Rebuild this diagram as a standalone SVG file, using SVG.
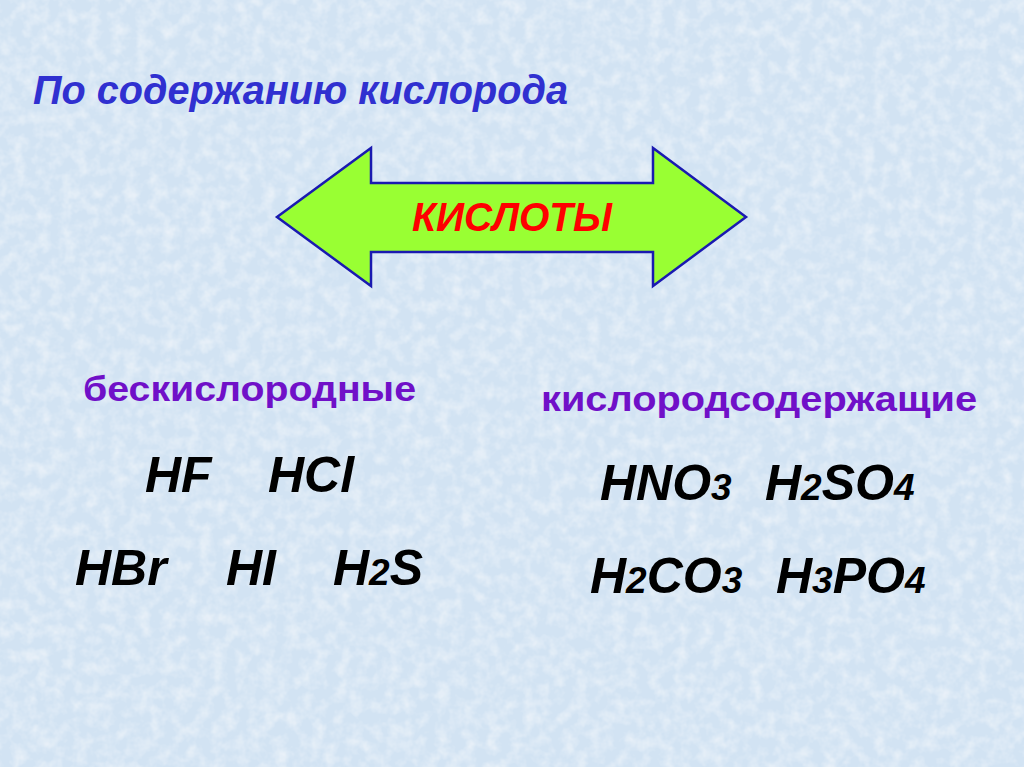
<svg xmlns="http://www.w3.org/2000/svg" width="1024" height="767" viewBox="0 0 1024 767">
<defs>
<filter id="tex" x="0" y="0" width="100%" height="100%">
<feTurbulence type="fractalNoise" baseFrequency="0.08" numOctaves="3" seed="4" result="n"/>
<feColorMatrix in="n" type="matrix" values="0 0 0 0 1  0 0 0 0 1  0 0 0 0 1  0 0 0 0.9 -0.35" result="w"/>
<feComposite in="w" in2="SourceGraphic" operator="over"/>
</filter>
<style>
.t{font-family:"Liberation Sans",Arial,sans-serif;font-weight:bold}
.i{font-style:italic}
.f{font-size:50px;fill:#000}
.s{font-size:37px}
.h{font-size:35px;fill:#7010c8}
</style>
</defs>
<rect width="1024" height="767" fill="#d2e3f3" filter="url(#tex)"/>
<g id="title"><text class="t i" x="33" y="104" font-size="40" fill="#3030d0" textLength="535" lengthAdjust="spacingAndGlyphs">По содержанию кислорода</text></g>
<g id="arrow">
<polygon points="277,217 371,148 371,183 653,183 653,148 746,217 653,286 653,252 371,252 371,286" fill="#99ff33" stroke="#1a1ab0" stroke-width="2.5" stroke-linejoin="miter"/>
<text class="t i" x="512" y="231" font-size="40" fill="#ff0000" text-anchor="middle" textLength="200" lengthAdjust="spacingAndGlyphs">КИСЛОТЫ</text>
</g>
<g id="oxygen-free">
<text class="t h" x="83" y="401" textLength="333" lengthAdjust="spacingAndGlyphs">бескислородные</text>
<text class="t i f" x="145" y="492">HF</text>
<text class="t i f" x="268" y="492">HCl</text>
<text class="t i f" x="75" y="585">HBr</text>
<text class="t i f" x="226" y="585">HI</text>
<text class="t i f" x="333" y="585">H<tspan class="s">2</tspan>S</text>
</g>
<g id="oxygen-containing">
<text class="t h" x="541" y="411" textLength="436" lengthAdjust="spacingAndGlyphs">кислородсодержащие</text>
<text class="t i f" x="600" y="500">HNO<tspan class="s">3</tspan></text>
<text class="t i f" x="765" y="500">H<tspan class="s">2</tspan>SO<tspan class="s">4</tspan></text>
<text class="t i f" x="590" y="593">H<tspan class="s">2</tspan>CO<tspan class="s">3</tspan></text>
<text class="t i f" x="776" y="593">H<tspan class="s">3</tspan>PO<tspan class="s">4</tspan></text>
</g>
</svg>
